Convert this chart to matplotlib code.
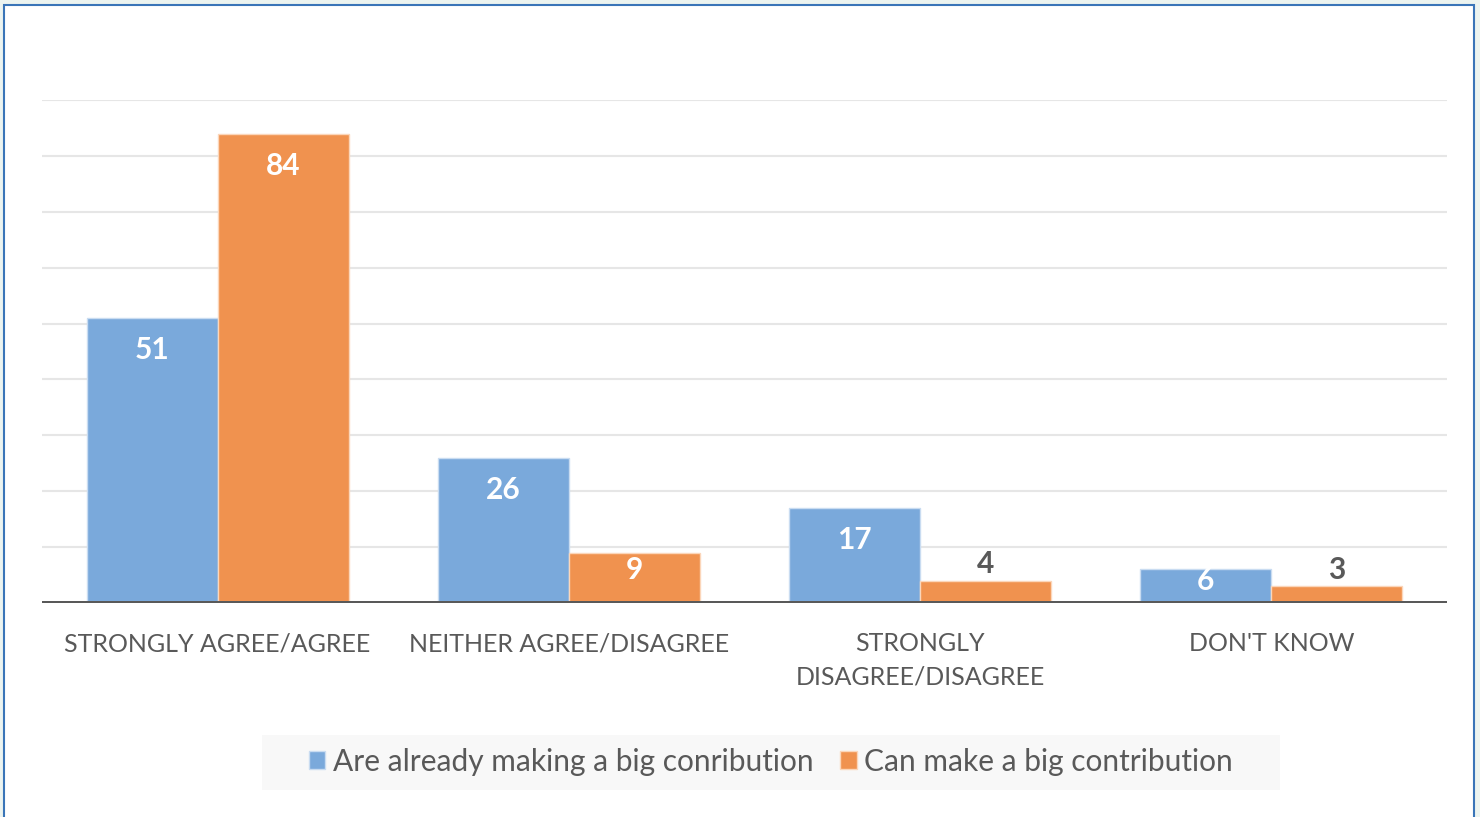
import numpy as np
import matplotlib
matplotlib.use("Agg")
import matplotlib.pyplot as plt
from matplotlib.patches import Rectangle, Patch

# survey answers, percent of respondents
categories = ["STRONGLY AGREE/AGREE", "NEITHER AGREE/DISAGREE",
              "STRONGLY\nDISAGREE/DISAGREE", "DON'T KNOW"]
already = [51, 26, 17, 6]
can_make = [84, 9, 4, 3]
series_names = ["Are already making a big conribution", "Can make a big contribution"]

BLUE = "#7aa9db"
ORANGE = "#f0924f"
TEXT = "#595959"

plt.rcParams['font.family'] = ['Lato', 'DejaVu Sans']

fig = plt.figure(figsize=(14.8, 8.17), dpi=100, facecolor="#ecf4f0")
W, H = 1480, 817

# white card with a blue outline
card = Rectangle((4 / W, -0.05), (1474 - 4) / W, 1.05 - 5 / H, transform=fig.transFigure,
                 facecolor="white", edgecolor="#3a75b8", linewidth=1.5, zorder=0)
fig.add_artist(card)

# light panel behind the legend
fig.add_artist(Rectangle((262 / W, (H - 790) / H), (1280 - 262) / W, 55 / H,
                         transform=fig.transFigure, facecolor="#f8f8f8",
                         edgecolor="none", zorder=1))

ax = fig.add_axes([42 / W, (H - 603) / H, (1447 - 42) / W, (603 - 100) / H])
ax.set_facecolor("none")

x = np.arange(len(categories))
width = 0.373
b1 = ax.bar(x - width / 2, already, width, color=BLUE, edgecolor="#c9dcf1", linewidth=1, zorder=3)
b2 = ax.bar(x + width / 2, can_make, width, color=ORANGE, edgecolor="#fbd6ba", linewidth=1, zorder=3)

ax.set_xlim(-0.5, len(categories) - 0.5)
ax.set_ylim(0, 90)
ax.set_yticks(np.arange(10, 91, 10))
ax.yaxis.grid(True, color="#e6e6e6", linewidth=1.5, zorder=1)
ax.tick_params(axis="y", left=False, labelleft=False)
ax.axhline(0, color=TEXT, linewidth=3.6, zorder=4)
for s in ax.spines.values():
    s.set_visible(False)

ax.set_xticks(x)
ax.set_xticklabels(categories, fontsize=18, color=TEXT, linespacing=1.52)
ax.tick_params(axis="x", length=0, pad=21)

# value labels: white inside tall bars, grey above short ones
px_per_unit = (603 - 100) / 90.0
for bars in (b1, b2):
    for rect in bars:
        v = rect.get_height()
        cx = rect.get_x() + rect.get_width() / 2
        h_px = v * px_per_unit
        if h_px >= 30:
            off = -min(32, 0.34 * h_px)
            ax.annotate(f"{v:g}", (cx, v), xytext=(0, off * 0.72), textcoords="offset points",
                        ha="center", va="center", color="white", fontsize=21.5,
                        fontweight="bold", zorder=5)
        else:
            ax.annotate(f"{v:g}", (cx, v), xytext=(0, 12), textcoords="offset points",
                        ha="center", va="center", color=TEXT, fontsize=21.5,
                        fontweight="bold", zorder=5)

handles = [Patch(facecolor=BLUE, edgecolor="#c9dcf1"), Patch(facecolor=ORANGE, edgecolor="#fbd6ba")]
leg = fig.legend(handles, series_names, loc="center", bbox_to_anchor=(771 / W, (H - 762) / H),
                 ncol=2, frameon=False, fontsize=21.5, handlelength=0.55, handleheight=0.55,
                 handletextpad=0.25, columnspacing=0.9, borderpad=0.5, borderaxespad=0)
for t in leg.get_texts():
    t.set_color(TEXT)

fig.savefig("out.png", dpi=100, facecolor=fig.get_facecolor())
